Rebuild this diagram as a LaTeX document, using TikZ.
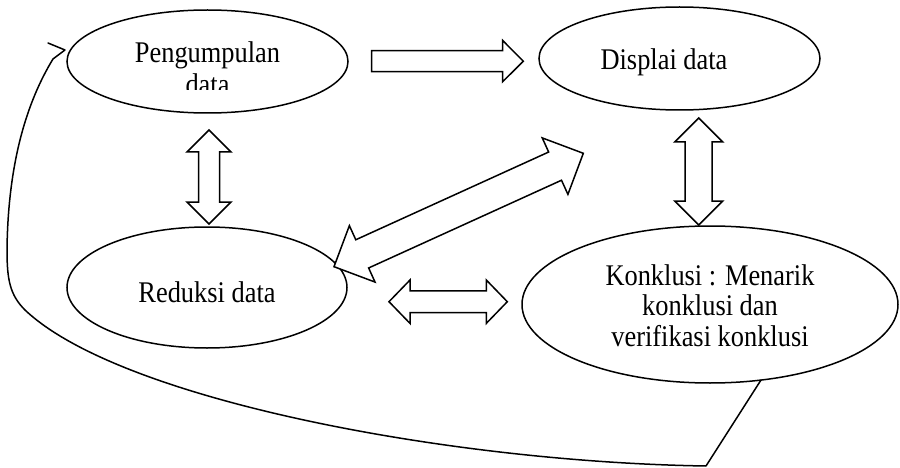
\documentclass[tikz,border=0pt]{standalone}
\usepackage{fontspec}
\setmainfont{Liberation Serif}
\usetikzlibrary{calc,shapes.geometric}
\newcommand{\lbl}[1]{\scalebox{0.88}[1]{\fontsize{30}{31}\selectfont #1}}
\newcommand{\dblarrow}[5]{% tipA tipB shafthalf headhalf headlen
  \draw[blk] (#1) -- ($(#1)!#5!(#2)!#4!90:(#2)$) -- ($(#1)!#5!(#2)!#3!90:(#2)$)
    -- ($(#2)!#5!(#1)!#3!-90:(#1)$) -- ($(#2)!#5!(#1)!#4!-90:(#1)$) -- (#2)
    -- ($(#2)!#5!(#1)!#4!90:(#1)$) -- ($(#2)!#5!(#1)!#3!90:(#1)$)
    -- ($(#1)!#5!(#2)!#3!-90:(#2)$) -- ($(#1)!#5!(#2)!#4!-90:(#2)$) -- cycle;}
\tikzset{
  oval/.style={draw, ellipse, line width=1.5pt, inner sep=0pt},
  txt/.style={anchor=base, inner sep=0pt},
  blk/.style={draw, line width=1.5pt, fill=white, line join=miter},
  flow/.style={draw, line width=1.5pt, line join=round, line cap=round}
}
\begin{document}
\begin{tikzpicture}[x=1pt,y=-1pt]
\useasboundingbox (0,0) rectangle (900,468);
% ellipses
\node[oval, minimum width=281pt, minimum height=103pt] (peng) at (207.5,61.5) {};
\node[oval, minimum width=281pt, minimum height=103pt] (disp) at (679.5,58.5) {};
\node[oval, minimum width=280pt, minimum height=121pt] (redu) at (207,287.5) {};
\node[oval, minimum width=376pt, minimum height=157pt] (konk) at (710,304.5) {};
% texts
\node[txt] (tpeng) at (207.5,63) {\lbl{Pengumpulan}};
\begin{scope}
  \clip (100,60) rectangle (320,90);
  \node[txt] (tdata) at (207.5,94.5) {\lbl{data}};
\end{scope}
\node[txt] (tdisp) at (664,70) {\lbl{Displai data}};
\node[txt] (tredu) at (207,302) {\lbl{Reduksi data}};
\node[txt] (tk1) at (710,285) {\lbl{Konklusi : Menarik}};
\node[txt] (tk2) at (710,315.5) {\lbl{konklusi dan}};
\node[txt] (tk3) at (710,346.5) {\lbl{verifikasi konklusi}};
% block arrows
\draw[blk] (371.7,50.7) -- (502.7,50.7) -- (502.7,40.5) -- (523.3,61.2)
  -- (502.7,81.7) -- (502.7,71.7) -- (371.7,71.7) -- cycle;
\coordinate (v1a) at (209,130); \coordinate (v1b) at (209,224);
\dblarrow{v1a}{v1b}{10.5pt}{22pt}{22pt}
\coordinate (v2a) at (698.7,118); \coordinate (v2b) at (698.7,225);
\dblarrow{v2a}{v2b}{13.5pt}{24pt}{24pt}
\coordinate (h1a) at (389,301.7); \coordinate (h1b) at (507.3,301.7);
\dblarrow{h1a}{h1b}{10.8pt}{21.7pt}{21pt}
\coordinate (d1a) at (334,266.7); \coordinate (d1b) at (583.3,153.3);
\dblarrow{d1a}{d1b}{15.5pt}{31pt}{31pt}
% feedback line
\coordinate (fs) at (761,380);
\coordinate (fc) at (706,466);
\coordinate (f1) at (25,310);
\coordinate (f2) at (7,250);
\coordinate (fe) at (53,59);
\coordinate (ftip) at (65,50);
\coordinate (fbarb) at (48,43);
\draw[flow] (fs) -- (fc)
  .. controls (450,462) and (120,400) .. (f1)
  .. controls (10,295) and (7,280) .. (f2)
  .. controls (8,160) and (28,100) .. (fe)
  -- (ftip) -- (fbarb);
\end{tikzpicture}
\end{document}
